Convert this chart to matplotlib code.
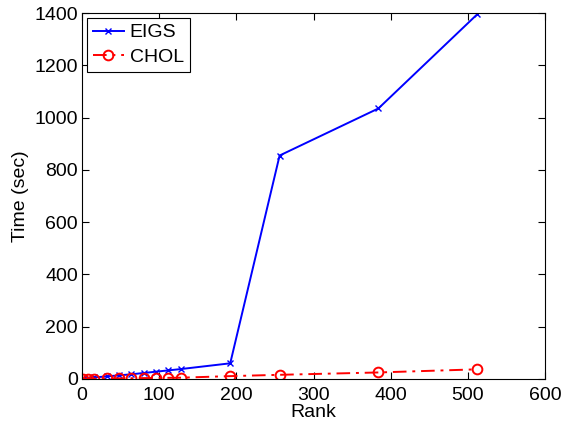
import matplotlib.pyplot as plt

plt.rcParams['font.family'] = ['Liberation Sans', 'DejaVu Sans']

rank = [1, 8, 16, 32, 48, 64, 80, 96, 112, 128, 192, 256, 384, 512]
eigs = [1, 3, 6, 10, 14, 18, 23, 28, 33, 38, 60, 855, 1035, 1395]
chol = [0.5, 1, 1.5, 2, 2.5, 3, 3.5, 4, 4.5, 5, 11, 16, 25, 37]

fig = plt.figure(figsize=(5.66, 4.28), dpi=100)
ax = fig.add_axes([0.145, 0.1145, 0.818, 0.855])

ax.plot(rank, eigs, '-', color='#0000ff', marker='x', markersize=5, lw=1.4, label='EIGS')
ax.plot(rank, chol, '-.', color='#ff0000', marker='o', markersize=7, mfc='none',
        lw=1.4, mew=1.4, dashes=(7, 3, 1.5, 3), label='CHOL')

ax.set_xlim(0, 600)
ax.set_ylim(0, 1400)
ax.set_xticks(range(0, 601, 100))
ax.set_yticks(range(0, 1401, 200))
ax.tick_params(direction='in', top=True, right=True, labelsize=14, length=5, pad=3)
ax.tick_params(axis='x', pad=6)
ax.set_xlabel('Rank', fontsize=14, labelpad=0)
ax.set_ylabel('Time (sec)', fontsize=14, labelpad=4)

leg = ax.legend(loc='upper left', fontsize=14, fancybox=False, edgecolor='black',
                framealpha=1, handlelength=1.6, handletextpad=0.3, borderpad=0.3,
                labelspacing=0.35, borderaxespad=0.25)
leg.get_frame().set_linewidth(0.8)

fig.savefig('out.png', dpi=100)
